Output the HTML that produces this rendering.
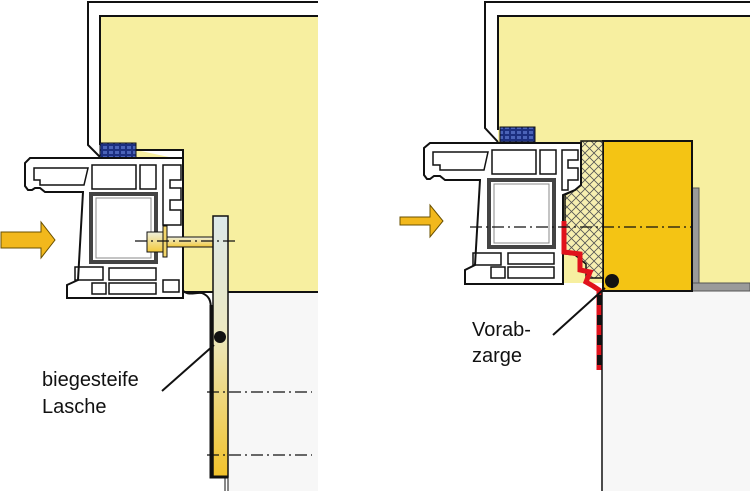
<!DOCTYPE html>
<html><head><meta charset="utf-8"><style>
html,body{margin:0;padding:0;background:#fff;}
svg{display:block;}
text{font-family:"Liberation Sans",sans-serif;font-size:20px;fill:#111;}
</style></head><body>
<svg width="750" height="491" viewBox="0 0 750 491" xmlns="http://www.w3.org/2000/svg">
<defs>
<linearGradient id="lg" x1="0" y1="0" x2="0" y2="1">
<stop offset="0" stop-color="#dde9ea"/><stop offset="0.45" stop-color="#ece8c0"/><stop offset="1" stop-color="#f2c22a"/>
</linearGradient>
<linearGradient id="rod" x1="0" y1="0" x2="0" y2="1">
<stop offset="0" stop-color="#eef0dc"/><stop offset="1" stop-color="#f3c93a"/>
</linearGradient>
<pattern id="hatch" width="9" height="9" patternUnits="userSpaceOnUse">
<rect width="9" height="9" fill="#f7efb0"/>
<path d="M0,0L9,9M9,0L0,9" stroke="#555" stroke-width="0.8"/>
</pattern>
<pattern id="seal" width="6" height="5" patternUnits="userSpaceOnUse">
<rect width="6" height="5" fill="#1c2f80"/><rect x="1" y="1" width="4" height="3" fill="#4b63b8"/>
</pattern>
</defs>

<!-- LEFT PANEL -->
<rect x="100" y="16" width="218" height="276" fill="#f7efa0"/>
<rect x="228" y="292" width="90" height="199" fill="#f7f7f7"/>
<path d="M318,2H88V145L100,157" fill="none" stroke="#111" stroke-width="2"/>
<path d="M318,16H100V145" fill="none" stroke="#111" stroke-width="2"/>
<path d="M136,150H183V160" fill="#fff" stroke="#111" stroke-width="2"/>
<rect x="100" y="143" width="36" height="15" fill="url(#seal)" stroke="#111"/>
<line x1="183" y1="292" x2="318" y2="292" stroke="#111" stroke-width="2"/>
<path d="M30,158H183V298H67V285L78,280L83,192H45L40,188H35L32,190H28L25,186V163Z" fill="#fff" stroke="#111" stroke-width="2"/>
<path d="M34,168H88L84,185H40V180H34Z" fill="none" stroke="#111" stroke-width="1.5"/>
<rect x="92" y="165" width="44" height="24" fill="none" stroke="#111" stroke-width="1.5"/>
<rect x="140" y="165" width="16" height="24" fill="none" stroke="#111" stroke-width="1.5"/>
<path d="M163,165H181V180H170V188H181V200H170V210H181V225H163Z" fill="none" stroke="#111" stroke-width="1.5"/>
<rect x="91" y="194" width="65" height="68" fill="none" stroke="#444" stroke-width="4"/>
<rect x="96" y="198" width="55" height="60" fill="#fff" stroke="#888" stroke-width="1"/>
<rect x="75" y="267" width="28" height="13" fill="none" stroke="#111" stroke-width="1.5"/>
<rect x="109" y="268" width="47" height="12" fill="none" stroke="#111" stroke-width="1.5"/>
<rect x="109" y="283" width="47" height="11" fill="none" stroke="#111" stroke-width="1.5"/>
<rect x="92" y="283" width="14" height="11" fill="none" stroke="#111" stroke-width="1.5"/>
<rect x="163" y="280" width="16" height="12" fill="none" stroke="#111" stroke-width="1.5"/>
<path d="M1,232H41V222L55,240L41,258V248H1Z" fill="#f2b81c" stroke="#6a5000" stroke-width="1"/>
<rect x="165" y="237" width="48" height="10" fill="url(#rod)" stroke="#111"/>
<rect x="147" y="232" width="18" height="20" fill="url(#rod)" stroke="#111"/>
<rect x="163" y="226" width="4" height="31" fill="#f3d66a" stroke="#111"/>
<path d="M183,291C190,296 195,292 202,293C209,296 211,300 211,310" fill="none" stroke="#111" stroke-width="2"/>
<rect x="213" y="216" width="15" height="261" fill="url(#lg)" stroke="#111" stroke-width="1.5"/>
<path d="M211,305V477H228" fill="none" stroke="#111" stroke-width="3"/>
<line x1="228" y1="292" x2="228" y2="491" stroke="#111" stroke-width="1"/>
<line x1="225" y1="477" x2="225" y2="491" stroke="#111" stroke-width="1"/>
<line x1="135" y1="241" x2="235" y2="241" stroke="#111" stroke-width="1.2" stroke-dasharray="12,4,2,4"/>
<line x1="207" y1="392" x2="312" y2="392" stroke="#111" stroke-width="1.2" stroke-dasharray="12,4,2,4"/>
<line x1="207" y1="455" x2="312" y2="455" stroke="#111" stroke-width="1.2" stroke-dasharray="12,4,2,4"/>
<circle cx="220" cy="337" r="6" fill="#111"/>
<line x1="214" y1="345" x2="162" y2="391" stroke="#111" stroke-width="2"/>
<text x="42" y="386">biegesteife</text>
<text x="42" y="413">Lasche</text>

<!-- RIGHT PANEL -->
<rect x="498" y="16" width="252" height="267" fill="#f7efa0"/>
<rect x="603" y="291" width="147" height="200" fill="#f7f7f7"/>
<path d="M750,2H485V128L498,142" fill="none" stroke="#111" stroke-width="2"/>
<path d="M750,16H498V130" fill="none" stroke="#111" stroke-width="2"/>
<rect x="692" y="188" width="7" height="103" fill="#9a9a9a" stroke="#555"/>
<rect x="692" y="283" width="58" height="8" fill="#9a9a9a" stroke="#555"/>
<rect x="603" y="141" width="89" height="150" fill="#f4c414" stroke="#111" stroke-width="2"/>
<path d="M581,141H603V278H586V264L575,255L565,254V195L575,190L581,185Z" fill="url(#hatch)" stroke="#111" stroke-width="1.5"/>
<rect x="500" y="127" width="35" height="15" fill="url(#seal)" stroke="#111"/>
<path d="M430,143H581V185L575,190L563,195V284H465V270L475,265L480,180H445L440,176H434L430,179H427L424,175V148Z" fill="#fff" stroke="#111" stroke-width="2"/>
<path d="M433,152H488L484,170H440V165H433Z" fill="none" stroke="#111" stroke-width="1.5"/>
<rect x="492" y="150" width="44" height="24" fill="none" stroke="#111" stroke-width="1.5"/>
<rect x="540" y="150" width="16" height="24" fill="none" stroke="#111" stroke-width="1.5"/>
<path d="M562,150H578V160H568V168H578V180H568V190H562Z" fill="none" stroke="#111" stroke-width="1.5"/>
<rect x="489" y="180" width="65" height="67" fill="none" stroke="#444" stroke-width="4"/>
<rect x="494" y="184" width="55" height="59" fill="#fff" stroke="#888"/>
<rect x="473" y="253" width="28" height="12" fill="none" stroke="#111" stroke-width="1.5"/>
<rect x="508" y="253" width="46" height="11" fill="none" stroke="#111" stroke-width="1.5"/>
<rect x="508" y="267" width="46" height="11" fill="none" stroke="#111" stroke-width="1.5"/>
<rect x="491" y="267" width="14" height="11" fill="none" stroke="#111" stroke-width="1.5"/>
<path d="M564,221V252L580,254V270L590,272L586,282L593,286L599,290V370" fill="none" stroke="#e0121c" stroke-width="5"/>
<line x1="599.5" y1="295" x2="599.5" y2="370" stroke="#111" stroke-width="5" stroke-dasharray="10,10"/>
<line x1="602" y1="291" x2="602" y2="491" stroke="#111" stroke-width="1.5"/>
<path d="M400,217H430V205L443,221L430,237V225H400Z" fill="#f2b81c" stroke="#6a5000"/>
<line x1="470" y1="227" x2="692" y2="227" stroke="#111" stroke-width="1.2" stroke-dasharray="12,4,2,4"/>
<circle cx="612" cy="281" r="7" fill="#111"/>
<line x1="605" y1="288" x2="553" y2="335" stroke="#111" stroke-width="2"/>
<text x="472" y="336">Vorab-</text>
<text x="472" y="362">zarge</text>
</svg>
</body></html>
